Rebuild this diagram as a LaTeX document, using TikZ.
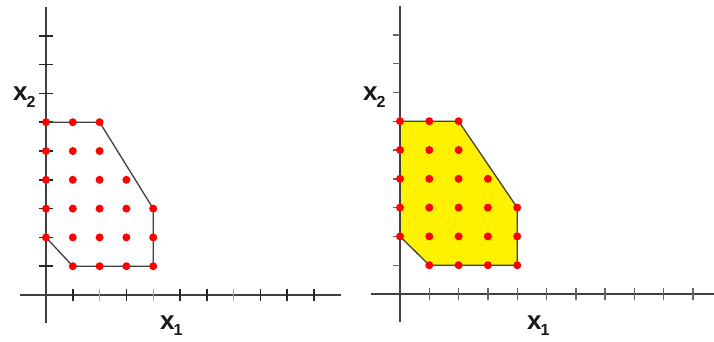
\documentclass[tikz,border=0pt]{standalone}
\usepackage{fontspec}
\setmainfont{Liberation Sans}
\begin{document}
\begin{tikzpicture}[x=1pt,y=-1pt]
\tikzset{
 axisline/.style={draw=black!75, line width=1.6pt},
 darktick/.style={draw=black!85, line width=1.6pt},
 lighttick/.style={draw=black!35, line width=1.2pt},
 rtick/.style={draw=black!60, line width=1.4pt},
 region/.style={draw=black!75, line width=1.3pt, line join=round},
 lattice/.style={fill=red},
 lbl/.style={font=\bfseries\fontsize{26}{26}\selectfont, inner sep=0pt, text=black!90},
}
\useasboundingbox[fill=white] (0,0) rectangle (714,341);
% ---------- left panel ----------
\begin{scope}[shift={(46pt,-295pt)}, x=26.8pt, y=28.8pt]
 \draw[axisline] (-0.97,0) -- (11,0);
 \draw[axisline] (0,-0.97) -- (0,10);
 \foreach \i in {1,3,5,6,8,9,10} \draw[darktick] (\i,0) ++(0pt,-6pt) -- ++(0pt,12pt);
 \foreach \i in {2,4,7} \draw[lighttick] (\i,0) ++(0pt,-6pt) -- ++(0pt,12pt);
 \foreach \j in {1,...,9} \draw[darktick] (0,\j) ++(-7pt,0pt) -- ++(14pt,0pt);
 \coordinate (LA) at (0,6); \coordinate (LB) at (2,6); \coordinate (LC) at (4,3);
 \coordinate (LD) at (4,1); \coordinate (LE) at (1,1); \coordinate (LF) at (0,2);
 \draw[region] (LF) -- (LE) -- (LD) -- (LC) -- (LB) -- (LA);
 \foreach \p/\q in {0/6,1/6,2/6,0/5,1/5,2/5,0/4,1/4,2/4,3/4,0/3,1/3,2/3,3/3,4/3,0/2,1/2,2/2,3/2,4/2,1/1,2/1,3/1,4/1}
  \fill[lattice] (\p,\q) circle (4pt);
\end{scope}
\node[lbl, anchor=base west] (lx2) at (13,100) {x\kern-1pt\raisebox{-7pt}{\fontsize{16}{16}\selectfont 2}};
\node[lbl, anchor=base west] (lx1) at (160,329) {x\kern-1pt\raisebox{-6pt}{\fontsize{16}{16}\selectfont 1}};
% ---------- right panel ----------
\begin{scope}[shift={(400pt,-294pt)}, x=29.3pt, y=28.8pt]
 \coordinate (RA) at (0,6); \coordinate (RB) at (2,6); \coordinate (RC) at (4,3);
 \coordinate (RD) at (4,1); \coordinate (RE) at (1,1); \coordinate (RF) at (0,2);
 \fill[yellow] (RA) -- (RB) -- (RC) -- (RD) -- (RE) -- (RF) -- cycle;
 \draw[axisline] (-0.99,0) -- (10.8,0);
 \draw[axisline] (0,-0.98) -- (0,10);
 \foreach \i in {1,...,10} \draw[rtick] (\i,0) ++(0pt,-6pt) -- ++(0pt,12pt);
 \foreach \j in {1,...,9} \draw[rtick] (0,\j) ++(-7pt,0pt) -- ++(7pt,0pt);
 \draw[region] (RF) -- (RE) -- (RD) -- (RC) -- (RB) -- (RA);
 \foreach \p/\q in {0/6,1/6,2/6,0/5,1/5,2/5,0/4,1/4,2/4,3/4,0/3,1/3,2/3,3/3,4/3,0/2,1/2,2/2,3/2,4/2,1/1,2/1,3/1,4/1}
  \fill[lattice] (\p,\q) circle (4pt);
\end{scope}
\node[lbl, anchor=base west] (rx2) at (363,100) {x\kern-1pt\raisebox{-7pt}{\fontsize{16}{16}\selectfont 2}};
\node[lbl, anchor=base west] (rx1) at (527,329) {x\kern-1pt\raisebox{-6pt}{\fontsize{16}{16}\selectfont 1}};
\end{tikzpicture}
\end{document}
